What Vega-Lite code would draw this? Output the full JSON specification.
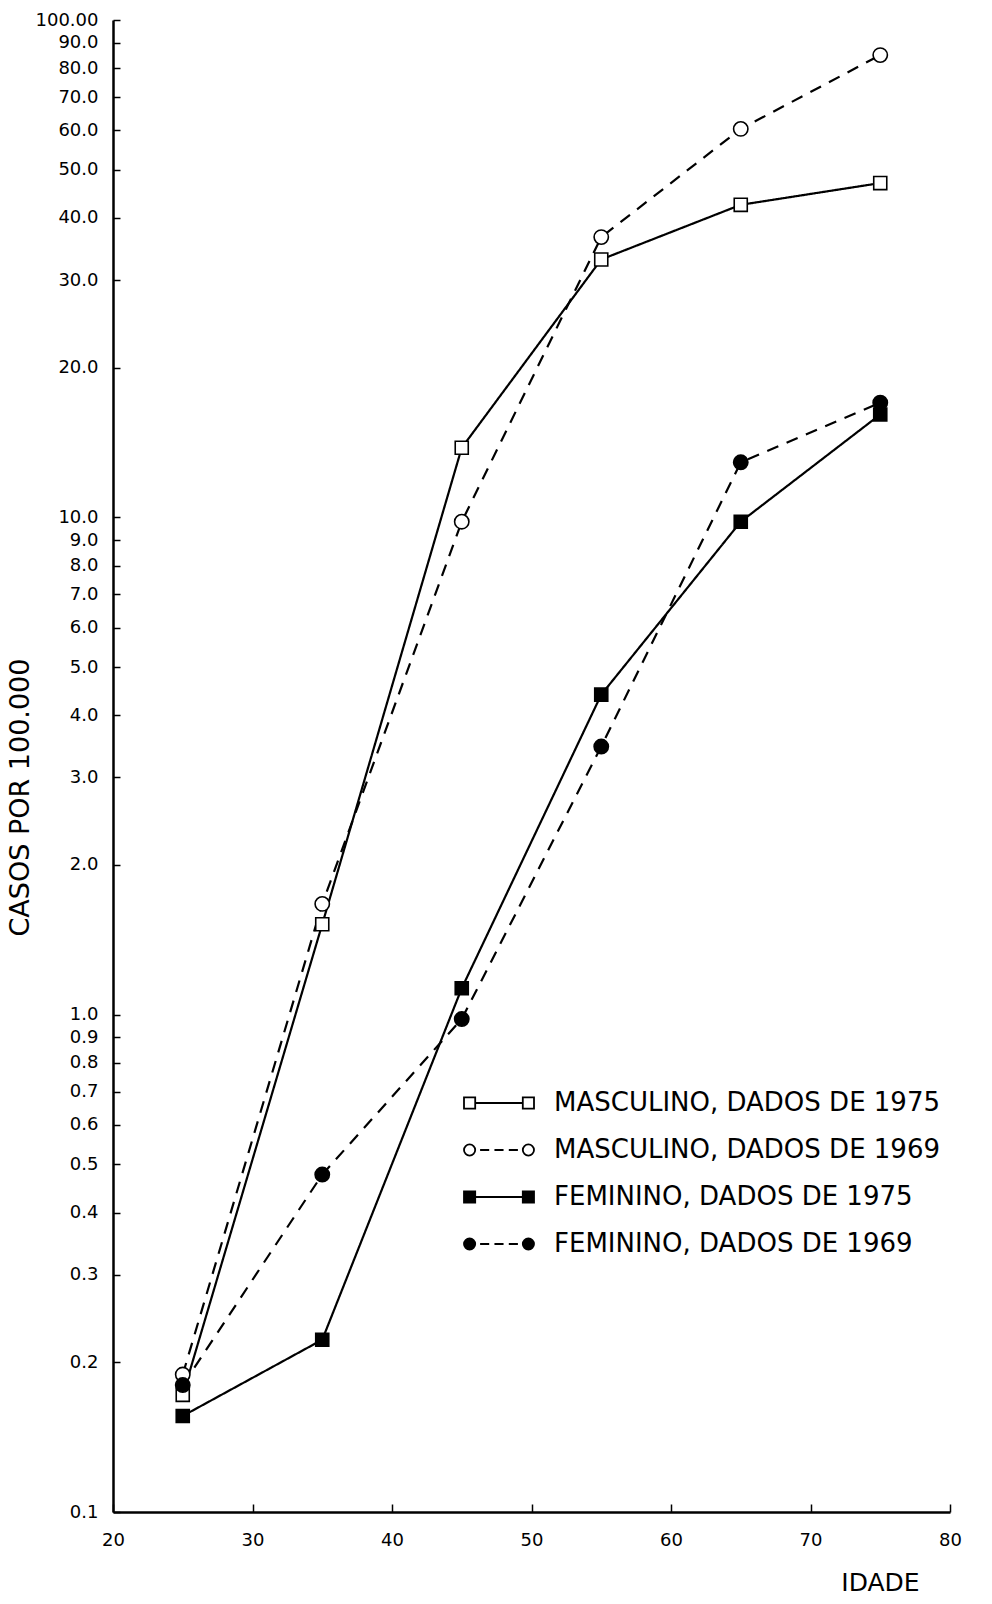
{
  "$schema": "https://vega.github.io/schema/vega-lite/v6.json",
  "width": 837,
  "height": 1492,
  "autosize": {"type": "none"},
  "padding": {"left": 113, "top": 20, "right": 42, "bottom": 92},
  "background": "white",
  "config": {
    "font": "DejaVu Sans",
    "view": {"stroke": null}
  },
  "data": {
    "values": [
      {"idade": 25, "casos": 0.172, "ano": "1975", "serie": "MASCULINO, DADOS DE 1975"},
      {"idade": 35, "casos": 1.52, "ano": "1975", "serie": "MASCULINO, DADOS DE 1975"},
      {"idade": 45, "casos": 13.8, "ano": "1975", "serie": "MASCULINO, DADOS DE 1975"},
      {"idade": 55, "casos": 33.0, "ano": "1975", "serie": "MASCULINO, DADOS DE 1975"},
      {"idade": 65, "casos": 42.5, "ano": "1975", "serie": "MASCULINO, DADOS DE 1975"},
      {"idade": 75, "casos": 47.0, "ano": "1975", "serie": "MASCULINO, DADOS DE 1975"},
      {"idade": 25, "casos": 0.189, "ano": "1969", "serie": "MASCULINO, DADOS DE 1969"},
      {"idade": 35, "casos": 1.67, "ano": "1969", "serie": "MASCULINO, DADOS DE 1969"},
      {"idade": 45, "casos": 9.8, "ano": "1969", "serie": "MASCULINO, DADOS DE 1969"},
      {"idade": 55, "casos": 36.6, "ano": "1969", "serie": "MASCULINO, DADOS DE 1969"},
      {"idade": 65, "casos": 60.4, "ano": "1969", "serie": "MASCULINO, DADOS DE 1969"},
      {"idade": 75, "casos": 85.0, "ano": "1969", "serie": "MASCULINO, DADOS DE 1969"},
      {"idade": 25, "casos": 0.156, "ano": "1975", "serie": "FEMININO, DADOS DE 1975"},
      {"idade": 35, "casos": 0.222, "ano": "1975", "serie": "FEMININO, DADOS DE 1975"},
      {"idade": 45, "casos": 1.13, "ano": "1975", "serie": "FEMININO, DADOS DE 1975"},
      {"idade": 55, "casos": 4.4, "ano": "1975", "serie": "FEMININO, DADOS DE 1975"},
      {"idade": 65, "casos": 9.8, "ano": "1975", "serie": "FEMININO, DADOS DE 1975"},
      {"idade": 75, "casos": 16.1, "ano": "1975", "serie": "FEMININO, DADOS DE 1975"},
      {"idade": 25, "casos": 0.18, "ano": "1969", "serie": "FEMININO, DADOS DE 1969"},
      {"idade": 35, "casos": 0.477, "ano": "1969", "serie": "FEMININO, DADOS DE 1969"},
      {"idade": 45, "casos": 0.98, "ano": "1969", "serie": "FEMININO, DADOS DE 1969"},
      {"idade": 55, "casos": 3.46, "ano": "1969", "serie": "FEMININO, DADOS DE 1969"},
      {"idade": 65, "casos": 12.9, "ano": "1969", "serie": "FEMININO, DADOS DE 1969"},
      {"idade": 75, "casos": 17.0, "ano": "1969", "serie": "FEMININO, DADOS DE 1969"}
    ]
  },
  "encoding": {
    "x": {
      "field": "idade",
      "type": "quantitative",
      "scale": {"domain": [20, 80], "nice": false, "zero": false},
      "axis": {
        "title": "IDADE",
        "values": [20, 30, 40, 50, 60, 70, 80],
        "grid": false,
        "domainColor": "black",
        "domainWidth": 2.5,
        "tickColor": "black",
        "tickWidth": 1.5,
        "tickSize": -8,
        "labelPadding": 27,
        "labelFontSize": 18,
        "labelColor": "black",
        "labelFlush": false,
        "titleFontSize": 25,
        "titleFontWeight": "normal",
        "titleColor": "black",
        "titleX": 767,
        "titleY": 70,
        "titleAlign": "center",
        "titleBaseline": "middle"
      }
    },
    "y": {
      "field": "casos",
      "type": "quantitative",
      "scale": {"type": "log", "domain": [0.1, 100], "nice": false},
      "axis": {
        "title": "CASOS POR 100.000",
        "values": [0.1, 0.2, 0.3, 0.4, 0.5, 0.6, 0.7, 0.8, 0.9, 1, 2, 3, 4, 5, 6, 7, 8, 9, 10, 20, 30, 40, 50, 60, 70, 80, 90, 100],
        "labelExpr": "datum.value == 100 ? '100.00' : format(datum.value, '.1f')",
        "labelOverlap": false,
        "labelFlush": false,
        "grid": false,
        "domainColor": "black",
        "domainWidth": 2.5,
        "tickColor": "black",
        "tickWidth": 1.5,
        "tickSize": -7,
        "labelPadding": 22,
        "labelFontSize": 18,
        "labelColor": "black",
        "titleFontSize": 27,
        "titleFontWeight": "normal",
        "titleColor": "black",
        "titleX": -93,
        "titleY": 777,
        "titleAlign": "center",
        "titleBaseline": "middle"
      }
    }
  },
  "layer": [
    {
      "mark": {"type": "line", "color": "black", "strokeWidth": 2.2},
      "encoding": {
        "detail": {"field": "serie", "type": "nominal"},
        "strokeDash": {
          "field": "ano",
          "type": "nominal",
          "scale": {"domain": ["1975", "1969"], "range": [[1, 0], [12, 9]]},
          "legend": null
        }
      }
    },
    {
      "mark": {"type": "point", "filled": true, "stroke": "black", "strokeWidth": 1.6, "opacity": 1},
      "encoding": {
        "shape": {
          "field": "ano",
          "type": "nominal",
          "scale": {"domain": ["1975", "1969"], "range": ["square", "circle"]},
          "legend": null
        },
        "size": {
          "field": "ano",
          "type": "nominal",
          "scale": {"domain": ["1975", "1969"], "range": [170, 205]},
          "legend": null
        },
        "fill": {
          "field": "serie",
          "type": "nominal",
          "scale": {
            "domain": ["MASCULINO, DADOS DE 1975", "MASCULINO, DADOS DE 1969", "FEMININO, DADOS DE 1975", "FEMININO, DADOS DE 1969"],
            "range": ["white", "white", "black", "black"]
          },
          "legend": {
            "title": null,
            "orient": "none",
            "legendX": 345,
            "legendY": 1070,
            "padding": 0,
            "labelFontSize": 26,
            "labelColor": "black",
            "labelLimit": 0,
            "symbolSize": 196,
            "symbolOffset": 28,
            "labelOffset": 42,
            "rowPadding": 21,
            "symbolStrokeWidth": 1.8,
            "symbolStrokeColor": "black",
            "symbolOpacity": 1,
            "encode": {
              "symbols": {
                "update": {
                  "shape": {"signal": "(datum.value == 'MASCULINO, DADOS DE 1975' || datum.value == 'FEMININO, DADOS DE 1975') ? 'M-5,-0.8H-3.4V0.8H-5Z M3.4,-0.8H5V0.8H3.4Z M-3.4,0H3.4' : 'M-5,0A0.8,0.8 0 1,1 -3.4,0A0.8,0.8 0 1,1 -5,0Z M3.4,0A0.8,0.8 0 1,1 5,0A0.8,0.8 0 1,1 3.4,0Z M-2.7,0H-1.4 M-0.65,0H0.65 M1.4,0H2.7'"},
                  "stroke": {"value": "black"},
                  "strokeWidth": {"value": 1.8},
                  "opacity": {"value": 1}
                }
              }
            }
          }
        }
      }
    }
  ]
}
